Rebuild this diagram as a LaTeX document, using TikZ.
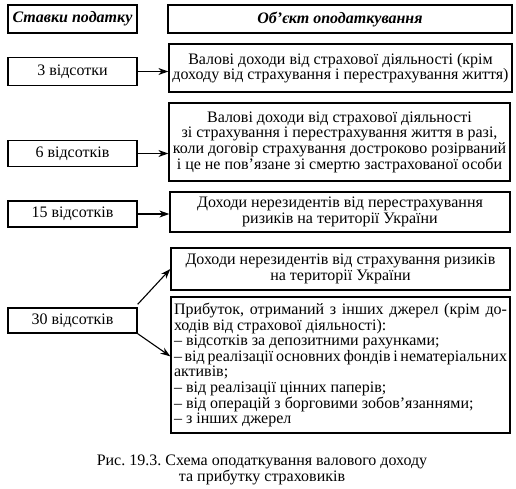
\documentclass[tikz,border=0pt]{standalone}
\usepackage{fontspec}
\setmainfont{Liberation Serif}
\usetikzlibrary{arrows.meta,calc}
\frenchspacing
\begin{document}
\begin{tikzpicture}[x=1pt,y=-1pt,
  every node/.style={font=\fontsize{16}{15.6}\selectfont},
  box/.style={draw,line width=1.3pt,rectangle,inner sep=0pt,align=center},
  arr/.style={line width=1.1pt,-{Stealth[length=10pt,width=7pt]}}]
\useasboundingbox (0,0) rectangle (516,488);
% left column
\node[box,minimum width=129pt,minimum height=28pt] (h1) at (72.5,19) {\textbf{\textit{Ставки податку}}};
\node[box,minimum width=129pt,minimum height=28pt] (l3) at (72.5,71.5) {3 відсотки};
\node[box,minimum width=129pt,minimum height=26pt] (l6) at (72.5,153.5) {6 відсотків};
\node[box,minimum width=129pt,minimum height=26pt] (l15) at (72.5,214) {15 відсотків};
\node[box,minimum width=129pt,minimum height=25pt] (l30) at (72.5,320.5) {30 відсотків};
% right column
\node[box,minimum width=344pt,minimum height=28pt] (h2) at (340,19) {\textbf{\textit{Об’єкт оподаткування}}};
\node[box,minimum width=343pt,minimum height=48pt] (b1) at (340.5,68) {Валові доходи від страхової діяльності (крім\\доходу від страхування і перестрахування життя)};
\node[box,minimum width=341pt,minimum height=78pt] (b2) at (339.5,142) {Валові доходи від страхової діяльності\\зі страхування і перестрахування життя в разі,\\коли договір страхування достроково розірваний\\і це не пов’язане зі смертю застрахованої особи};
\node[box,minimum width=340pt,minimum height=40pt] (b3) at (340,212) {Доходи нерезидентів від перестрахування\\ризиків на території України};
\node[box,minimum width=339pt,minimum height=42pt] (b4) at (340.5,269) {Доходи нерезидентів від страхування ризиків\\на території України};
\node[box,minimum width=339pt,minimum height=136pt,text width=333pt,align=justify] (b5) at (340.5,365) {Прибуток, отриманий з інших джерел (крім до-\linebreak ходів від страхової діяльності):\\
– відсотків за депозитними рахунками;\\
– від реалізації основних фондів і нематеріальних\linebreak активів;\\
– від реалізації цінних паперів;\\
– від операцій з борговими зобов’язаннями;\\
– з інших джерел};
% connectors
\draw[arr] (l3.east) -- (l3.east -| b1.west);
\draw[arr] (l6.east) -- (l6.east -| b2.west);
\draw[arr] (l15.east) -- (l15.east -| b3.west);
\draw[arr] ([yshift=3pt]l30.north east) -- (b4.west);
\draw[arr] (l30.south east) -- ([yshift=-60pt]b5.north west);
% caption
\node[align=center] (cap) at (262,470) {Рис. 19.3. Схема оподаткування валового доходу\\та прибутку страховиків};
\end{tikzpicture}
\end{document}
